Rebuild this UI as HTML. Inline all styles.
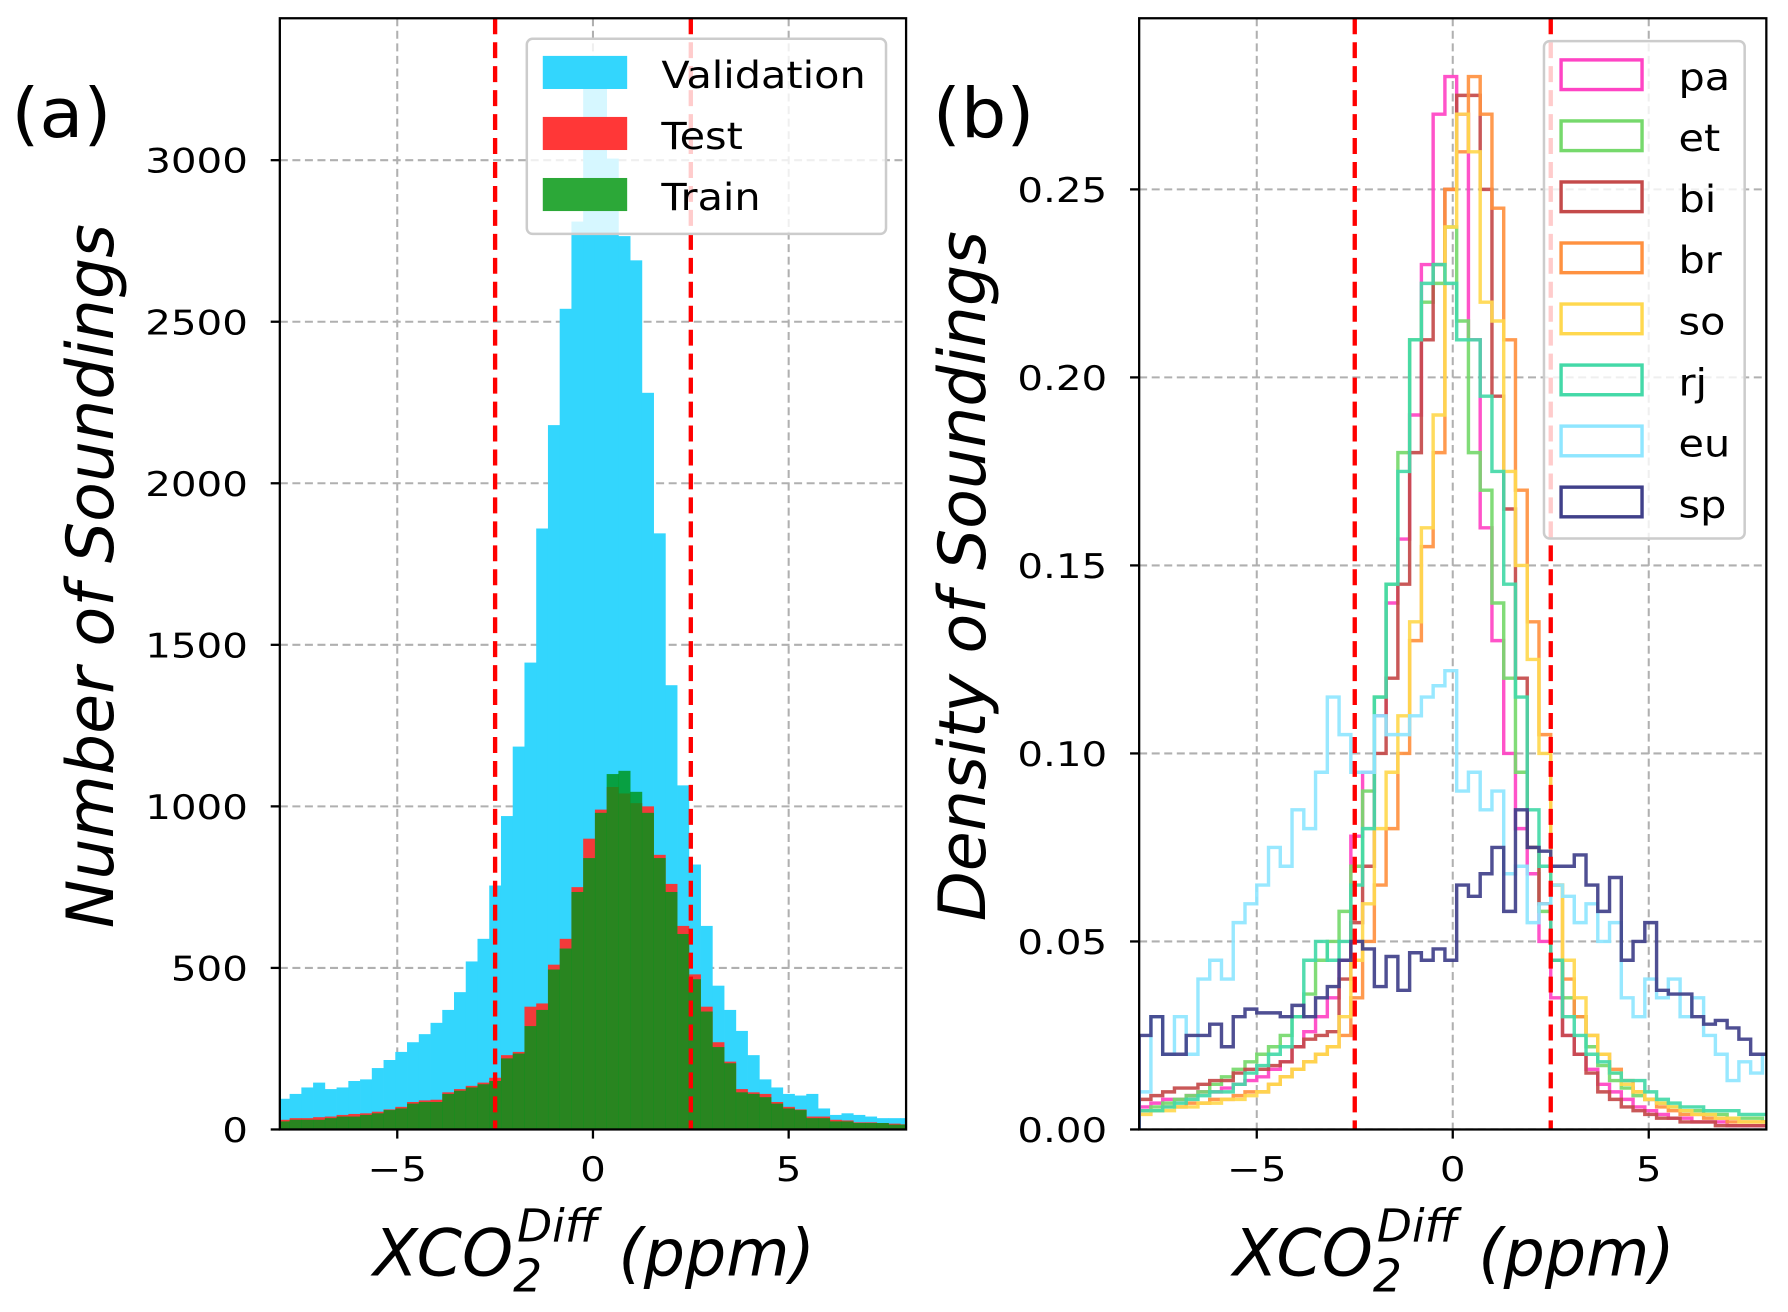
<!DOCTYPE html>
<html><head><meta charset="utf-8"><style>
html,body{margin:0;padding:0;background:#fff}
svg{display:block}
text{font-family:"DejaVu Sans","Liberation Sans",sans-serif;fill:#000}
</style></head><body>
<svg id="chart" width="1788" height="1312" viewBox="0 0 1568 1150" preserveAspectRatio="none" xmlns="http://www.w3.org/2000/svg">
<g id="pa"></g>
<g id="pb"></g>
</svg>
<script>
// ---- Panel (a) data ----
const binStartA = -8.05;
const binWidthA = 0.3;
const validationCounts = [95,110,130,145,125,130,150,155,190,215,240,270,295,330,370,425,520,590,755,970,1185,1445,1860,2180,2540,2810,3245,3270,3005,2765,2690,2280,1845,1375,1065,820,630,445,370,305,230,155,130,110,105,110,65,45,50,45,40,35,35,35];
const testCounts = [30,35,35,38,40,45,48,50,55,62,70,85,90,92,115,125,135,145,160,230,240,380,390,510,590,750,900,990,1060,1040,1010,1000,850,760,630,480,380,270,210,125,115,110,85,70,62,40,40,30,28,22,22,20,18,16];
const trainCounts = [25,30,30,30,35,40,40,45,50,60,65,80,85,85,110,120,130,140,150,220,235,320,370,495,560,735,840,980,1100,1110,1045,980,840,735,605,465,365,255,205,115,110,100,80,65,60,35,35,25,25,20,20,20,15,15];
const yTicksA = [0,500,1000,1500,2000,2500,3000];
const xTicks = [-5,0,5];
const xTickLabels = ["\u22125","0","5"];
const thresholds = [-2.5,2.5];

// ---- Panel (b) data ----
const binStartB = -8;
const binWidthB = 0.3;
const seriesNames = ["pa","et","bi","br","so","rj","eu","sp"];
const paVals = [0.006,0.007,0.008,0.008,0.009,0.010,0.010,0.011,0.012,0.013,0.014,0.016,0.018,0.022,0.026,0.030,0.035,0.045,0.078,0.095,0.11,0.14,0.157,0.19,0.23,0.27,0.28,0.27,0.21,0.16,0.13,0.10,0.08,0.068,0.05,0.035,0.025,0.02,0.016,0.012,0.01,0.008,0.006,0.005,0.004,0.003,0.003,0.002,0.002,0.002,0.001,0.001,0.001,0.001];
const etVals = [0.005,0.006,0.007,0.008,0.009,0.010,0.012,0.014,0.016,0.018,0.020,0.022,0.025,0.030,0.036,0.045,0.050,0.058,0.07,0.09,0.115,0.145,0.18,0.21,0.22,0.225,0.24,0.215,0.18,0.17,0.14,0.12,0.095,0.075,0.058,0.045,0.035,0.03,0.022,0.017,0.013,0.011,0.009,0.008,0.007,0.006,0.005,0.005,0.004,0.004,0.003,0.003,0.003,0.002];
const biVals = [0.008,0.009,0.010,0.011,0.011,0.012,0.013,0.013,0.015,0.016,0.016,0.017,0.018,0.022,0.024,0.025,0.026,0.04,0.055,0.07,0.10,0.12,0.145,0.18,0.21,0.23,0.25,0.275,0.275,0.25,0.195,0.165,0.12,0.075,0.06,0.045,0.025,0.02,0.015,0.010,0.008,0.006,0.005,0.004,0.003,0.003,0.002,0.002,0.002,0.001,0.001,0.001,0.001,0.001];
const brVals = [0.005,0.005,0.006,0.006,0.007,0.007,0.008,0.008,0.009,0.010,0.010,0.012,0.014,0.016,0.018,0.020,0.022,0.025,0.035,0.05,0.065,0.08,0.10,0.13,0.155,0.18,0.25,0.26,0.28,0.27,0.245,0.21,0.17,0.135,0.105,0.065,0.04,0.03,0.025,0.02,0.016,0.013,0.010,0.008,0.006,0.005,0.004,0.004,0.003,0.003,0.002,0.002,0.002,0.002];
const soVals = [0.004,0.005,0.005,0.006,0.006,0.007,0.007,0.008,0.008,0.009,0.010,0.012,0.014,0.016,0.018,0.020,0.022,0.030,0.045,0.06,0.08,0.095,0.11,0.135,0.16,0.19,0.24,0.27,0.26,0.22,0.215,0.175,0.15,0.125,0.10,0.065,0.045,0.035,0.025,0.02,0.015,0.012,0.010,0.008,0.007,0.006,0.005,0.004,0.004,0.003,0.003,0.002,0.002,0.002];
const rjVals = [0.005,0.005,0.006,0.007,0.008,0.009,0.010,0.010,0.012,0.015,0.017,0.020,0.022,0.030,0.045,0.050,0.045,0.050,0.065,0.08,0.115,0.145,0.175,0.21,0.225,0.23,0.225,0.21,0.21,0.195,0.175,0.145,0.115,0.085,0.07,0.045,0.03,0.025,0.02,0.018,0.015,0.013,0.013,0.010,0.008,0.007,0.006,0.006,0.005,0.005,0.005,0.004,0.004,0.004];
const euVals = [0.01,0.03,0.02,0.03,0.02,0.04,0.045,0.04,0.055,0.06,0.065,0.075,0.07,0.085,0.08,0.095,0.115,0.105,0.095,0.095,0.11,0.105,0.105,0.11,0.115,0.118,0.122,0.09,0.095,0.085,0.09,0.068,0.07,0.055,0.06,0.065,0.062,0.055,0.06,0.05,0.055,0.035,0.03,0.04,0.035,0.04,0.03,0.035,0.025,0.02,0.013,0.018,0.015,0.02];
const spVals = [0.025,0.03,0.02,0.02,0.025,0.025,0.028,0.022,0.03,0.032,0.031,0.031,0.03,0.033,0.03,0.035,0.038,0.045,0.05,0.048,0.038,0.046,0.037,0.047,0.045,0.048,0.045,0.065,0.062,0.068,0.075,0.058,0.085,0.075,0.074,0.07,0.07,0.073,0.065,0.058,0.067,0.045,0.05,0.055,0.037,0.036,0.036,0.03,0.028,0.029,0.027,0.024,0.02,0.02];
const yTicksB = [0,0.05,0.10,0.15,0.20,0.25];
const yTickLabelsB = ["0.00","0.05","0.10","0.15","0.20","0.25"];

const NS = "http://www.w3.org/2000/svg";
function mk(parent, tag, attrs, text){
  const e = document.createElementNS(NS, tag);
  for (const k in attrs) e.setAttribute(k, attrs[k]);
  if (text !== undefined) e.textContent = text;
  parent.appendChild(e);
  return e;
}
function stretch(el, x, y, sx){
  el.setAttribute('transform', 'translate(' + x + ',' + y + ') scale(' + sx + ',1) translate(' + (-x) + ',' + (-y) + ')');
}

const AX = {l:245.4, r:794.6, t:16, b:990};
const BX = {l:999, r:1549, t:16, b:990};
function xa(v){ return AX.l + (v + 8) * (AX.r - AX.l) / 16; }
function ya(v){ return AX.b - v * 0.2832; }
function xb(v){ return BX.l + (v + 8) * (BX.r - BX.l) / 16; }
function yb(v){ return BX.b - v * 3296; }

const pa = document.getElementById('pa');
const pb = document.getElementById('pb');

const defs = mk(document.getElementById('chart'), 'defs', {});
const ca = mk(defs, 'clipPath', {id:'clipA'});
mk(ca, 'rect', {x:AX.l, y:AX.t, width:AX.r-AX.l, height:AX.b-AX.t});
const cb = mk(defs, 'clipPath', {id:'clipB'});
mk(cb, 'rect', {x:BX.l, y:BX.t, width:BX.r-BX.l, height:BX.b-BX.t});

function grid(parent, box, xf, yf, yt){
  const g = mk(parent, 'g', {stroke:'#b0b0b0','stroke-width':1.8,'stroke-dasharray':'7,4'});
  
  
  xTicks.forEach(v => mk(g, 'line', {x1:xf(v), x2:xf(v), y1:box.t, y2:box.b}));
  yt.forEach(v => mk(g, 'line', {x1:box.l, x2:box.r, y1:yf(v), y2:yf(v)}));
}

// ---------- Panel a ----------
grid(pa, AX, xa, ya, yTicksA);
const barsA = mk(pa, 'g', {'clip-path':'url(#clipA)'});
function drawBars(vals, fill, name, opacity){
  const g = mk(barsA, 'g', {fill:fill, 'fill-opacity':opacity});
  
  
  vals.forEach((v, i) => {
    const x0 = xa(binStartA + i * binWidthA), x1 = xa(binStartA + (i + 1) * binWidthA);
    const r = mk(g, 'rect', {x:x0, y:ya(v), width:x1 - x0 + 0.3, height:ya(0) - ya(v)});
    
    
  });
}
drawBars(validationCounts, '#33d6fd', 'validation-bars', 1);
drawBars(testCounts, '#f23a3a', 'test-bars', 1);
drawBars(trainCounts, '#00951c', 'train-bars', 0.83);

function thresholdLines(parent, box, xf){
  const g = mk(parent, 'g', {stroke:'#ff0000','stroke-width':3.8,'stroke-dasharray':'14,7'});
  
  
  thresholds.forEach(v => mk(g, 'line', {x1:xf(v), x2:xf(v), y1:box.t, y2:box.b}));
}
thresholdLines(pa, AX, xa);

function axesFrame(parent, box, xf, yf, yt, ylabels){
  const f = mk(parent, 'rect', {x:box.l, y:box.t, width:box.r-box.l, height:box.b-box.t, fill:'none', stroke:'#000','stroke-width':2});
  
  
  xTicks.forEach((v, i) => {
    mk(parent, 'line', {x1:xf(v), x2:xf(v), y1:box.b, y2:box.b + 8, stroke:'#000','stroke-width':2});
    const t = mk(parent, 'text', {x:xf(v), y:box.b + 45, 'text-anchor':'middle','font-size':30}, xTickLabels[i]);
    stretch(t, xf(v), box.b + 45, 1.18);
    
    
  });
  yt.forEach((v, i) => {
    mk(parent, 'line', {x1:box.l - 8, x2:box.l, y1:yf(v), y2:yf(v), stroke:'#000','stroke-width':2});
    const t = mk(parent, 'text', {x:box.l - 28, y:yf(v) + 11, 'text-anchor':'end','font-size':30}, ylabels[i]);
    stretch(t, box.l - 28, yf(v) + 11, 1.18);
    
    
  });
}
axesFrame(pa, AX, xa, ya, yTicksA, yTicksA.map(String));

function legend(parent, x, y, w, h, entries, outlined){
  const g = mk(parent, 'g', {});
  
  
  mk(g, 'rect', {x:x, y:y, width:w, height:h, rx:5, fill:'#fff','fill-opacity':0.8, stroke:'#cccccc','stroke-width':2.2});
  entries.forEach((e, i) => {
    const ey = y + 15 + i * 53.5;
    const eg = mk(g, 'g', {});
    
    
    if (outlined) mk(eg, 'rect', {x:x + 15, y:ey + 1.5, width:71, height:26, fill:'none', stroke:e.color,'stroke-width':3});
    else mk(eg, 'rect', {x:x + 14, y:ey, width:74, height:29, fill:e.color});
    const tx = mk(eg, 'text', {x:x + 118, y:ey + 28, 'font-size':33}, e.label);
    stretch(tx, x + 118, ey + 28, 1.1);
  });
}
legend(pa, 462, 34, 315, 171, [
  {label:'Validation', color:'#33d6fd'},
  {label:'Test', color:'#ff3737'},
  {label:'Train', color:'#2ca838'}
], false);

let t;
t = mk(pa, 'text', {x:10, y:120, 'font-size':60}, '(a)');
stretch(t, 10, 120, 1.05);


t = mk(pa, 'text', {x:0, y:0, 'font-size':57, 'font-style':'italic', 'text-anchor':'middle', transform:'translate(99,505) rotate(-90)'}, 'Number of Soundings');



function xTitle(parent, cx){
  const tx = mk(parent, 'text', {x:cx, y:1118, 'font-size':57, 'font-style':'italic', 'text-anchor':'middle'});
  
  
  mk(tx, 'tspan', {}, 'XCO');
  mk(tx, 'tspan', {'font-size':40, dy:14}, '2');
  mk(tx, 'tspan', {'font-size':40, dx:-22, dy:-44}, 'Diff');
  mk(tx, 'tspan', {dy:30}, ' (ppm)');
}
xTitle(pa, 521);

// ---------- Panel b ----------
grid(pb, BX, xb, yb, yTicksB);
const seriesVals = [paVals, etVals, biVals, brVals, soVals, rjVals, euVals, spVals];
const seriesColors = ['#ff44c4','#76d96c','#c44a4a','#ff9140','#ffd84f','#44d9a8','#8fe6ff','#40408a'];
const linesB = mk(pb, 'g', {'clip-path':'url(#clipB)', fill:'none'});
seriesVals.forEach((vals, s) => {
  let d = 'M' + xb(binStartB) + ',' + yb(0);
  vals.forEach((v, i) => {
    d += ' L' + xb(binStartB + i * binWidthB) + ',' + yb(v) + ' L' + xb(binStartB + (i + 1) * binWidthB) + ',' + yb(v);
  });
  d += ' L' + xb(binStartB + vals.length * binWidthB) + ',' + yb(0);
  const p = mk(linesB, 'path', {d:d, stroke:seriesColors[s], 'stroke-width':3, 'stroke-opacity':0.92});
  
  
});
thresholdLines(pb, BX, xb);
axesFrame(pb, BX, xb, yb, yTicksB, yTickLabelsB);
legend(pb, 1354, 36, 176, 436, seriesNames.map((n, i) => ({label:n, color:seriesColors[i]})), true);

t = mk(pb, 'text', {x:818, y:120, 'font-size':60}, '(b)');
stretch(t, 818, 120, 1.05);


t = mk(pb, 'text', {x:0, y:0, 'font-size':57, 'font-style':'italic', 'text-anchor':'middle', transform:'translate(864,505) rotate(-90)'}, 'Density of Soundings');


xTitle(pb, 1275);
</script>
</body></html>
